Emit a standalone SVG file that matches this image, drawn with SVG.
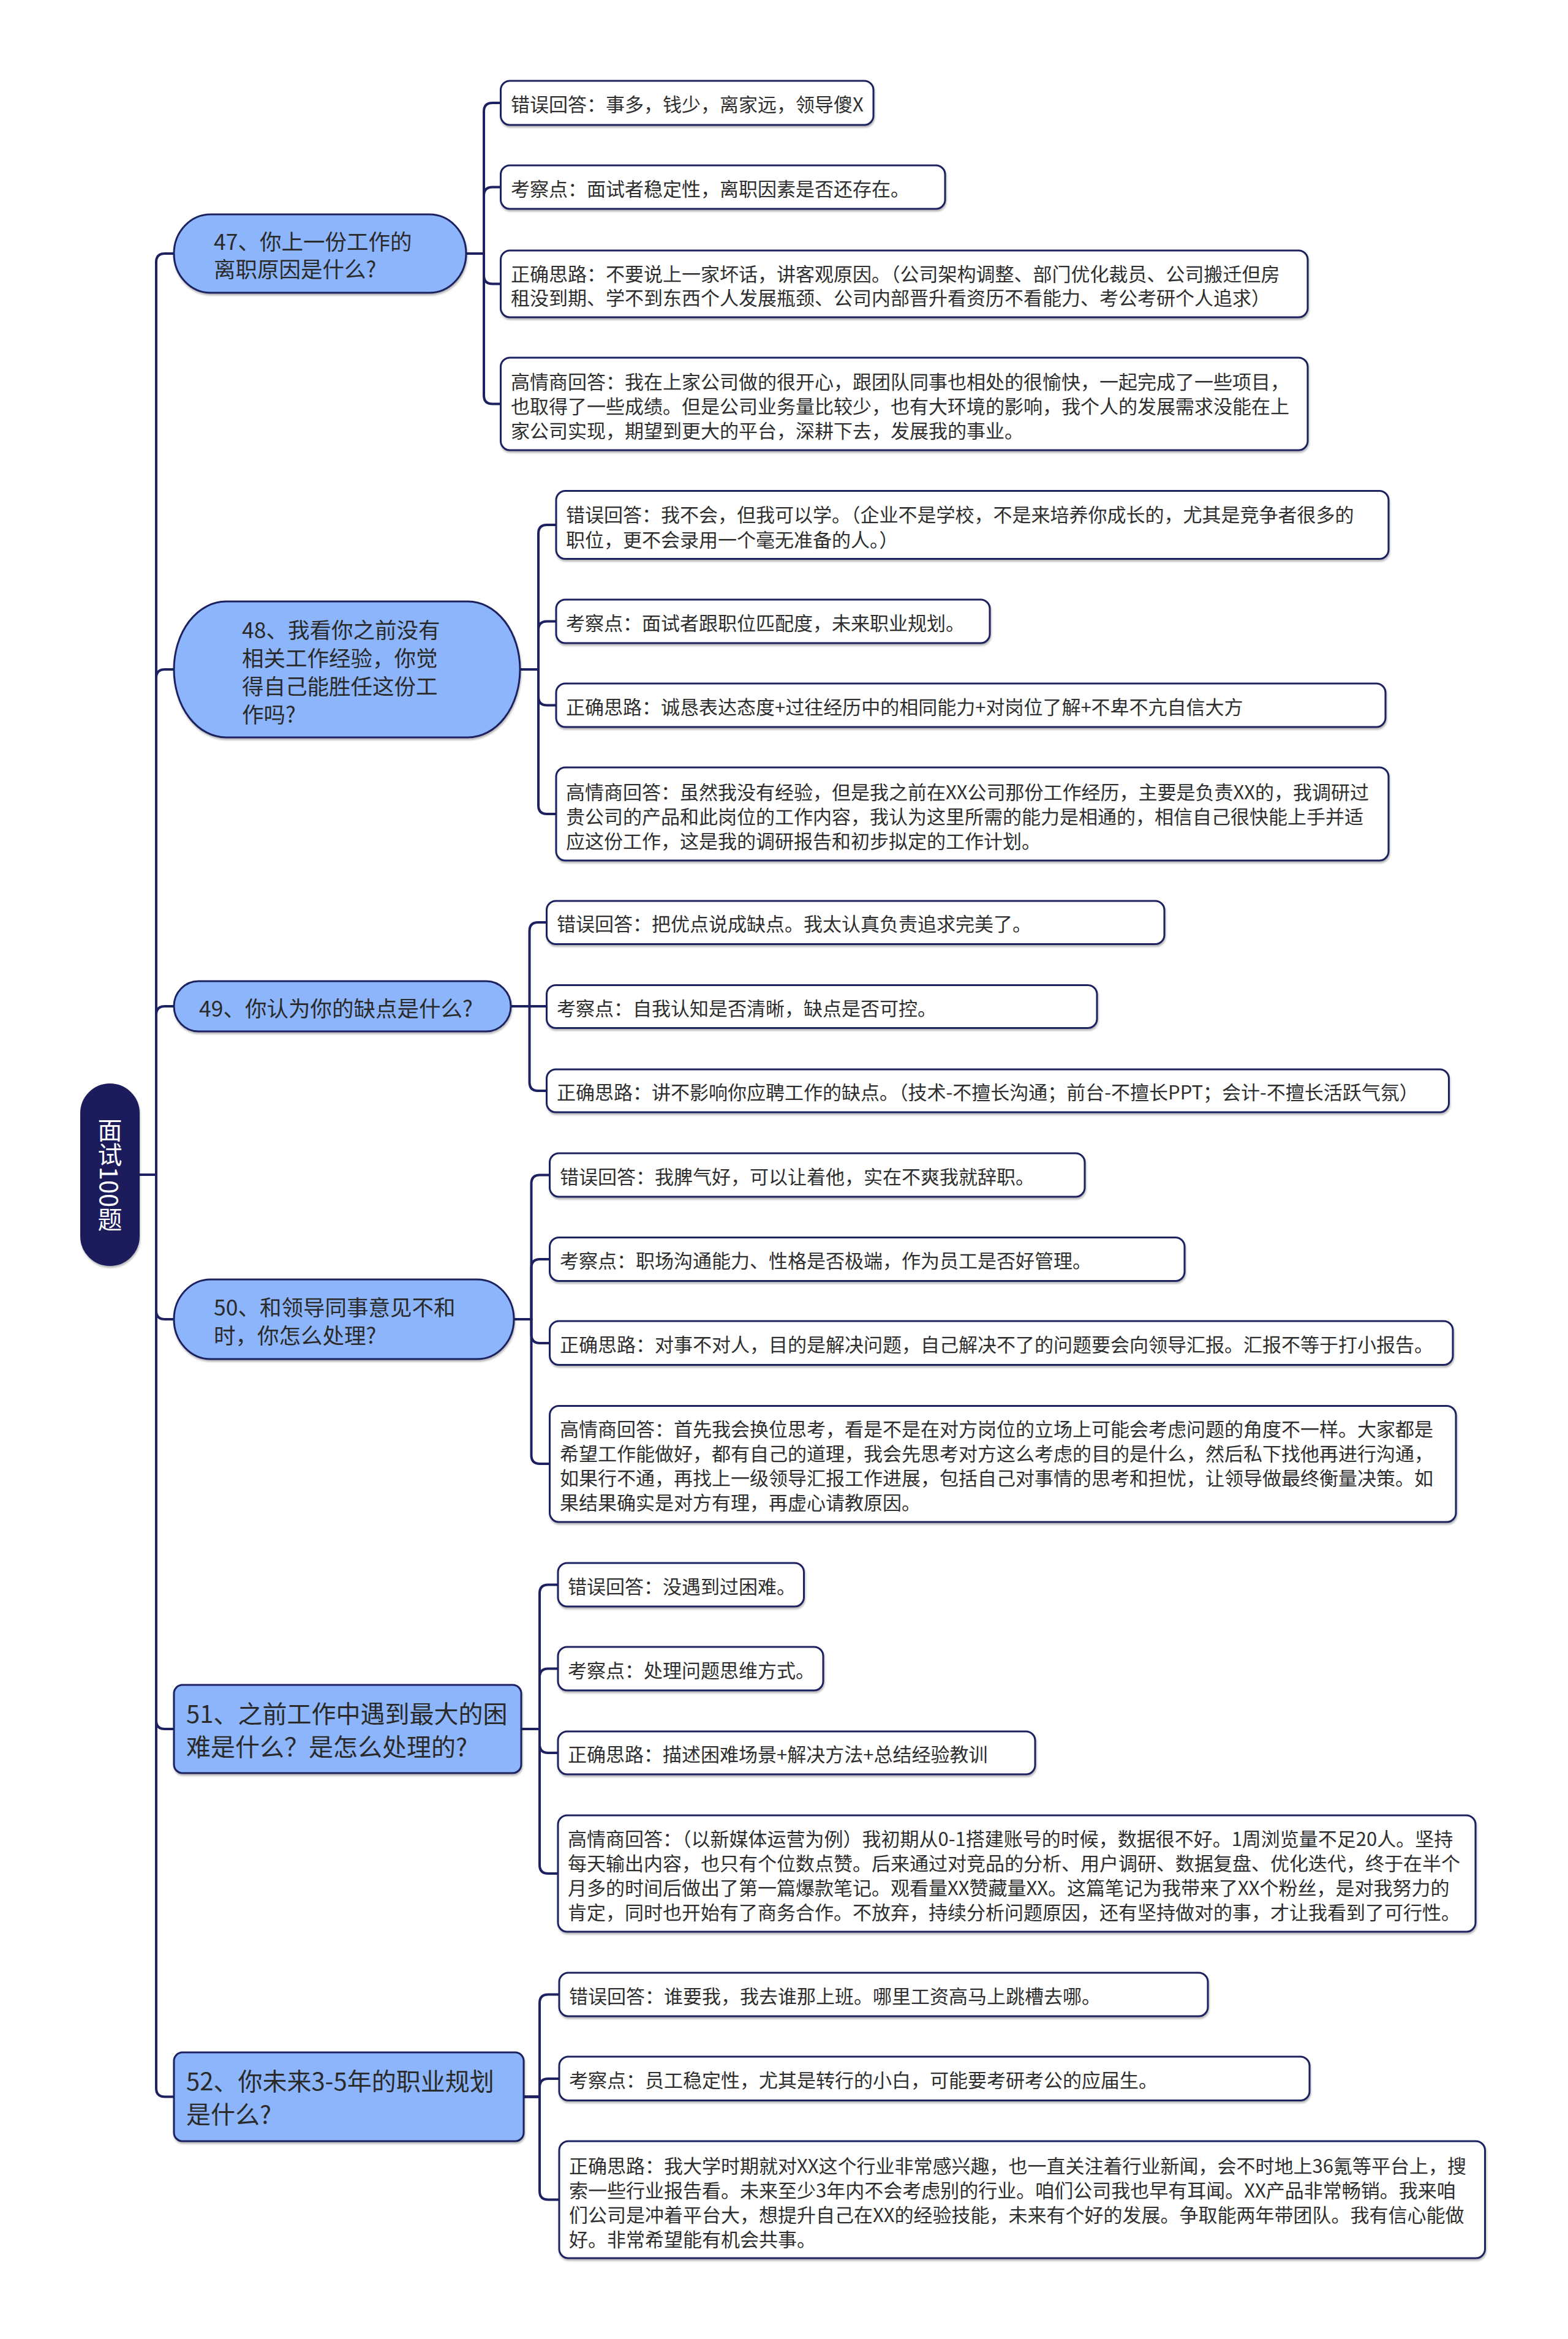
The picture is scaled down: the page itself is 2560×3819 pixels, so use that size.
<svg xmlns="http://www.w3.org/2000/svg" width="2560" height="3819" viewBox="0 0 2560 3819">
<style>
.bg{fill:#ffffff}
.conn path{fill:none;stroke:#1e2160;stroke-width:4;stroke-linecap:round;stroke-linejoin:round}
.leaf rect{fill:#ffffff;stroke:#1e2160;stroke-width:3}
.br rect{fill:#8db5fb;stroke:#1e2160;stroke-width:3}
.root rect{fill:#1c1e5c;stroke:#1c1e5c;stroke-width:2}
text{font-family:"Noto Sans CJK SC","Noto Sans",sans-serif;dominant-baseline:central}
.lt{font-size:31px;fill:#2e2e2e}
.bt{font-size:35.5px;fill:#2a2a2a}
.bt2{font-size:40px;fill:#2a2a2a}
.rt{font-size:40px;fill:#ffffff;writing-mode:vertical-rl;text-orientation:mixed}
</style>
<defs>
<filter id="sh" x="-5%" y="-10%" width="110%" height="130%">
<feDropShadow dx="1" dy="3" stdDeviation="1.5" flood-color="#000000" flood-opacity="0.28"/>
</filter>
</defs>
<rect class="bg" x="0" y="0" width="2560" height="3819"/>

<g id="connectors" class="conn">
<path d="M227 1918 H255 V428 Q255 414 269 414 H284"/>
<path d="M227 1918 H255 V1107 Q255 1093 269 1093 H284"/>
<path d="M227 1918 H255 V1657 Q255 1643 269 1643 H284"/>
<path d="M227 1918 H255 V2140 Q255 2154 269 2154 H284"/>
<path d="M227 1918 H255 V2809 Q255 2823 269 2823 H284"/>
<path d="M227 1918 H255 V3409.5 Q255 3423.5 269 3423.5 H284"/>

<path d="M761 414 H790 V182 Q790 168 804 168 H817.5"/>
<path d="M761 414 H790 V319.5 Q790 305.5 804 305.5 H817.5"/>
<path d="M761 414 H790 V449.5 Q790 463.5 804 463.5 H817.5"/>
<path d="M761 414 H790 V645.5 Q790 659.5 804 659.5 H817.5"/>

<path d="M849 1093 H879 V871 Q879 857 893 857 H908"/>
<path d="M849 1093 H879 V1028.5 Q879 1014.5 893 1014.5 H908"/>
<path d="M849 1093 H879 V1137.5 Q879 1151.5 893 1151.5 H908"/>
<path d="M849 1093 H879 V1315 Q879 1329 893 1329 H908"/>

<path d="M834 1643 H864.5 V1520 Q864.5 1506 878.5 1506 H892.5"/>
<path d="M834 1643 H892.5"/>
<path d="M834 1643 H864.5 V1767 Q864.5 1781 878.5 1781 H892.5"/>

<path d="M839 2154 H867.5 V1932.5 Q867.5 1918.5 881.5 1918.5 H897.5"/>
<path d="M839 2154 H867.5 V2070 Q867.5 2056 881.5 2056 H897.5"/>
<path d="M839 2154 H867.5 V2179 Q867.5 2193 881.5 2193 H897.5"/>
<path d="M839 2154 H867.5 V2376 Q867.5 2390 881.5 2390 H897.5"/>

<path d="M851 2823 H881 V2601.5 Q881 2587.5 895 2587.5 H911"/>
<path d="M851 2823 H881 V2738.5 Q881 2724.5 895 2724.5 H911"/>
<path d="M851 2823 H881 V2848 Q881 2862 895 2862 H911"/>
<path d="M851 2823 H881 V3045 Q881 3059 895 3059 H911"/>

<path d="M855 3423.5 H881 V3270.5 Q881 3256.5 895 3256.5 H913"/>
<path d="M855 3423.5 H881 V3408 Q881 3394 895 3394 H913"/>
<path d="M855 3423.5 H881 V3577.5 Q881 3591.5 895 3591.5 H913"/>
</g>

<g id="root" class="root">
<rect x="132" y="1770" width="95" height="296" rx="47.5" ry="47.5" filter="url(#sh)"/>
<text class="rt" x="179.5" y="1918" text-anchor="middle">面试100题</text>
</g>

<!-- Q47 -->
<g id="q47" class="br">
<rect x="284" y="350" width="477" height="128" rx="60" ry="64" filter="url(#sh)"/>
<text class="bt" x="349" y="392">47、你上一份工作的</text>
<text class="bt" x="349" y="437">离职原因是什么?</text>
</g>
<g id="q47-wrong" class="leaf">
<rect x="817.5" y="132" width="608.5" height="72" rx="15" filter="url(#sh)"/>
<text class="lt" x="834" y="168.5">错误回答：事多，钱少，离家远，领导傻X</text>
</g>
<g id="q47-point" class="leaf">
<rect x="817.5" y="270" width="725.5" height="71" rx="15" filter="url(#sh)"/>
<text class="lt" x="834" y="306">考察点：面试者稳定性，离职因素是否还存在。</text>
</g>
<g id="q47-idea" class="leaf">
<rect x="817.5" y="409" width="1317.5" height="109" rx="15" filter="url(#sh)"/>
<text class="lt" x="834" y="445">正确思路：不要说上一家坏话，讲客观原因。（公司架构调整、部门优化裁员、公司搬迁但房</text>
<text class="lt" x="834" y="484">租没到期、学不到东西个人发展瓶颈、公司内部晋升看资历不看能力、考公考研个人追求）</text>
</g>
<g id="q47-eq" class="leaf">
<rect x="817.5" y="584" width="1317.5" height="151" rx="15" filter="url(#sh)"/>
<text class="lt" x="834" y="621">高情商回答：我在上家公司做的很开心，跟团队同事也相处的很愉快，一起完成了一些项目，</text>
<text class="lt" x="834" y="661">也取得了一些成绩。但是公司业务量比较少，也有大环境的影响，我个人的发展需求没能在上</text>
<text class="lt" x="834" y="701">家公司实现，期望到更大的平台，深耕下去，发展我的事业。</text>
</g>

<!-- Q48 -->
<g id="q48" class="br">
<rect x="284" y="982" width="565" height="222" rx="85" ry="111" filter="url(#sh)"/>
<text class="bt" x="395" y="1026">48、我看你之前没有</text>
<text class="bt" x="395" y="1072">相关工作经验，你觉</text>
<text class="bt" x="395" y="1118">得自己能胜任这份工</text>
<text class="bt" x="395" y="1164">作吗?</text>
</g>
<g id="q48-wrong" class="leaf">
<rect x="908" y="801.5" width="1359" height="111" rx="15" filter="url(#sh)"/>
<text class="lt" x="924" y="838.5">错误回答：我不会，但我可以学。（企业不是学校，不是来培养你成长的，尤其是竞争者很多的</text>
<text class="lt" x="924" y="879">职位，更不会录用一个毫无准备的人。）</text>
</g>
<g id="q48-point" class="leaf">
<rect x="908" y="979" width="708" height="71" rx="15" filter="url(#sh)"/>
<text class="lt" x="924" y="1015">考察点：面试者跟职位匹配度，未来职业规划。</text>
</g>
<g id="q48-idea" class="leaf">
<rect x="908" y="1116" width="1354" height="71" rx="15" filter="url(#sh)"/>
<text class="lt" x="924" y="1152">正确思路：诚恳表达态度+过往经历中的相同能力+对岗位了解+不卑不亢自信大方</text>
</g>
<g id="q48-eq" class="leaf">
<rect x="908" y="1253" width="1359" height="152" rx="15" filter="url(#sh)"/>
<text class="lt" x="924" y="1291">高情商回答：虽然我没有经验，但是我之前在XX公司那份工作经历，主要是负责XX的，我调研过</text>
<text class="lt" x="924" y="1331">贵公司的产品和此岗位的工作内容，我认为这里所需的能力是相通的，相信自己很快能上手并适</text>
<text class="lt" x="924" y="1371">应这份工作，这是我的调研报告和初步拟定的工作计划。</text>
</g>

<!-- Q49 -->
<g id="q49" class="br">
<rect x="284" y="1602" width="550" height="82" rx="40" ry="41" filter="url(#sh)"/>
<text class="bt" x="325" y="1644">49、你认为你的缺点是什么?</text>
</g>
<g id="q49-wrong" class="leaf">
<rect x="892.5" y="1471" width="1008.5" height="70.5" rx="15" filter="url(#sh)"/>
<text class="lt" x="909" y="1506.5">错误回答：把优点说成缺点。我太认真负责追求完美了。</text>
</g>
<g id="q49-point" class="leaf">
<rect x="892.5" y="1608.5" width="898.5" height="70" rx="15" filter="url(#sh)"/>
<text class="lt" x="909" y="1644">考察点：自我认知是否清晰，缺点是否可控。</text>
</g>
<g id="q49-idea" class="leaf">
<rect x="892.5" y="1746" width="1473" height="70" rx="15" filter="url(#sh)"/>
<text class="lt" x="909" y="1781.5">正确思路：讲不影响你应聘工作的缺点。（技术-不擅长沟通；前台-不擅长PPT；会计-不擅长活跃气氛）</text>
</g>

<!-- Q50 -->
<g id="q50" class="br">
<rect x="284" y="2089" width="555" height="130" rx="60" ry="65" filter="url(#sh)"/>
<text class="bt" x="349" y="2132">50、和领导同事意见不和</text>
<text class="bt" x="349" y="2178">时，你怎么处理?</text>
</g>
<g id="q50-wrong" class="leaf">
<rect x="897.5" y="1883" width="873.5" height="71" rx="15" filter="url(#sh)"/>
<text class="lt" x="914" y="1919">错误回答：我脾气好，可以让着他，实在不爽我就辞职。</text>
</g>
<g id="q50-point" class="leaf">
<rect x="897.5" y="2020.5" width="1036.5" height="71" rx="15" filter="url(#sh)"/>
<text class="lt" x="914" y="2056.5">考察点：职场沟通能力、性格是否极端，作为员工是否好管理。</text>
</g>
<g id="q50-idea" class="leaf">
<rect x="897.5" y="2157" width="1474.5" height="71.5" rx="15" filter="url(#sh)"/>
<text class="lt" x="914" y="2193.5">正确思路：对事不对人，目的是解决问题，自己解决不了的问题要会向领导汇报。汇报不等于打小报告。</text>
</g>
<g id="q50-eq" class="leaf">
<rect x="897.5" y="2295.5" width="1479.5" height="189.5" rx="15" filter="url(#sh)"/>
<text class="lt" x="914" y="2331">高情商回答：首先我会换位思考，看是不是在对方岗位的立场上可能会考虑问题的角度不一样。大家都是</text>
<text class="lt" x="914" y="2371">希望工作能做好，都有自己的道理，我会先思考对方这么考虑的目的是什么，然后私下找他再进行沟通，</text>
<text class="lt" x="914" y="2411">如果行不通，再找上一级领导汇报工作进展，包括自己对事情的思考和担忧，让领导做最终衡量决策。如</text>
<text class="lt" x="914" y="2451">果结果确实是对方有理，再虚心请教原因。</text>
</g>

<!-- Q51 -->
<g id="q51" class="br">
<rect x="284" y="2751" width="567" height="144" rx="14" filter="url(#sh)"/>
<text class="bt2" x="304" y="2796">51、之前工作中遇到最大的困</text>
<text class="bt2" x="304" y="2850">难是什么？是怎么处理的?</text>
</g>
<g id="q51-wrong" class="leaf">
<rect x="911" y="2552" width="401.5" height="71" rx="15" filter="url(#sh)"/>
<text class="lt" x="927" y="2588">错误回答：没遇到过困难。</text>
</g>
<g id="q51-point" class="leaf">
<rect x="911" y="2689" width="433" height="71" rx="15" filter="url(#sh)"/>
<text class="lt" x="927" y="2725">考察点：处理问题思维方式。</text>
</g>
<g id="q51-idea" class="leaf">
<rect x="911" y="2827" width="779" height="70" rx="15" filter="url(#sh)"/>
<text class="lt" x="927" y="2862.5">正确思路：描述困难场景+解决方法+总结经验教训</text>
</g>
<g id="q51-eq" class="leaf">
<rect x="911" y="2964" width="1498" height="190" rx="15" filter="url(#sh)"/>
<text class="lt" x="927" y="3000.5">高情商回答：（以新媒体运营为例）我初期从0-1搭建账号的时候，数据很不好。1周浏览量不足20人。坚持</text>
<text class="lt" x="927" y="3040.5">每天输出内容，也只有个位数点赞。后来通过对竞品的分析、用户调研、数据复盘、优化迭代，终于在半个</text>
<text class="lt" x="927" y="3080.5">月多的时间后做出了第一篇爆款笔记。观看量XX赞藏量XX。这篇笔记为我带来了XX个粉丝，是对我努力的</text>
<text class="lt" x="927" y="3120.5">肯定，同时也开始有了商务合作。不放弃，持续分析问题原因，还有坚持做对的事，才让我看到了可行性。</text>
</g>

<!-- Q52 -->
<g id="q52" class="br">
<rect x="284" y="3351" width="571" height="145" rx="14" filter="url(#sh)"/>
<text class="bt2" x="304" y="3396">52、你未来3-5年的职业规划</text>
<text class="bt2" x="304" y="3450">是什么?</text>
</g>
<g id="q52-wrong" class="leaf">
<rect x="913" y="3221" width="1059" height="71" rx="15" filter="url(#sh)"/>
<text class="lt" x="929" y="3257">错误回答：谁要我，我去谁那上班。哪里工资高马上跳槽去哪。</text>
</g>
<g id="q52-point" class="leaf">
<rect x="913" y="3358" width="1225" height="71.5" rx="15" filter="url(#sh)"/>
<text class="lt" x="929" y="3394.5">考察点：员工稳定性，尤其是转行的小白，可能要考研考公的应届生。</text>
</g>
<g id="q52-idea" class="leaf">
<rect x="913" y="3496" width="1511.5" height="191" rx="15" filter="url(#sh)"/>
<text class="lt" x="929" y="3534">正确思路：我大学时期就对XX这个行业非常感兴趣，也一直关注着行业新闻，会不时地上36氪等平台上，搜</text>
<text class="lt" x="929" y="3574">索一些行业报告看。未来至少3年内不会考虑别的行业。咱们公司我也早有耳闻。XX产品非常畅销。我来咱</text>
<text class="lt" x="929" y="3614">们公司是冲着平台大，想提升自己在XX的经验技能，未来有个好的发展。争取能两年带团队。我有信心能做</text>
<text class="lt" x="929" y="3654">好。非常希望能有机会共事。</text>
</g>
</svg>
